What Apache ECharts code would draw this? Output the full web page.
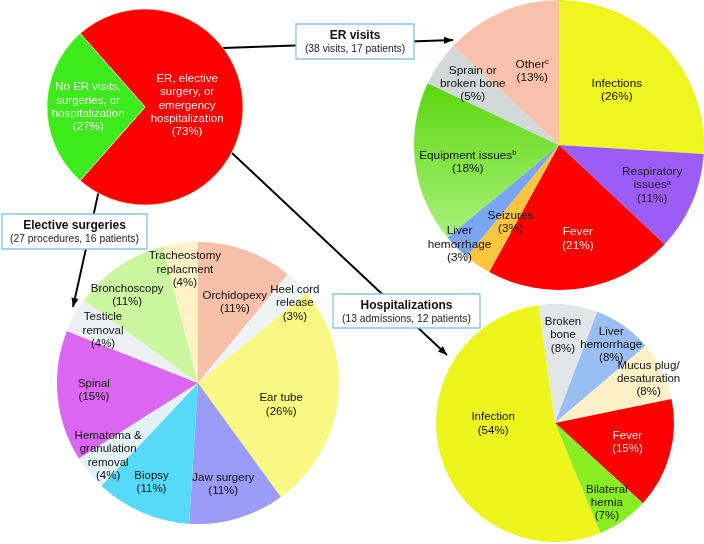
<!DOCTYPE html>
<html>
<head>
<meta charset="utf-8">
<script src="https://cdn.jsdelivr.net/npm/echarts@6/dist/echarts.min.js"></script>
<style>
    html, body { margin: 0; padding: 0; background: #fff; }
    #main { width: 704px; height: 544px; }
</style>
</head>
<body>
<div id="main"></div>
<script>
// overall split of patients
var overallNames = ['ER, elective\nsurgery, or\nemergency\nhospitalization', 'No ER visits,\nsurgeries, or\nhospitalization'];
var overallPct = [73, 27];

// ER visits (38 visits, 17 patients)
var erNames = ['Infections', 'Respiratory\nissues', 'Fever', 'Seizures', 'Liver\nhemorrhage', 'Equipment issues', 'Sprain or\nbroken bone', 'Other'];
var erNotes = ['', 'a', '', '', '', 'b', '', 'c'];
var erPct = [26, 11, 21, 3, 3, 18, 5, 13];

// elective surgeries (27 procedures, 16 patients)
var surgNames = ['Orchidopexy', 'Heel cord\nrelease', 'Ear tube', 'Jaw surgery', 'Biopsy', 'Hematoma &\ngranulation\nremoval', 'Spinal', 'Testicle\nremoval', 'Bronchoscopy', 'Tracheostomy\nreplacment'];
var surgPct = [11, 3, 26, 11, 11, 4, 15, 4, 11, 4];

// hospitalizations (13 admissions, 12 patients)
var hospNames = ['Broken\nbone', 'Liver\nhemorrhage', 'Mucus plug/\ndesaturation', 'Fever', 'Bilateral\nhernia', 'Infection'];
var hospPct = [8, 8, 8, 15, 7, 54];

// box captions
var boxTitles = ['ER visits', 'Elective surgeries', 'Hospitalizations'];
var boxSubs = ['(38 visits, 17 patients)', '(27 procedures, 16 patients)', '(13 admissions, 12 patients)'];

// styling
var overallColors = ['#FF0000', '#3DEB1C'];
var erColors = ['#EFF51E', '#9B5CF8', '#FF0000', '#FCC53F', '#7AA5F2',
    new echarts.graphic.LinearGradient(0, 0, 0, 1, [{ offset: 0, color: '#5CD60E' }, { offset: 1, color: '#A8F27A' }]),
    '#D3D8D8', '#F9C1AC'];
var surgColors = ['#F8C0A8', '#EEF4F6', '#F8F882', '#9B9BF8', '#55DAFA', '#E4F1F6', '#DA66F2', '#ECF0F2', '#CCF5A0', '#FFF2C8'];
var hospColors = ['#E2E6E6', '#9ABEF2', '#FBF0C8', '#FF0000', '#88EE22', '#EEF51C'];

// label spots: [angle deg, fraction of radius]
var overallSpots = [[2, 0.43], [180, 0.58]];
var erSpots = [[43.5, 0.55], [-23.3, 0.70], [-78.6, 0.66], [-122.1, 0.63], [-135, 0.97], [190.6, 0.64], [144.6, 0.73], [110, 0.54]];
var surgSpots = [[65.5, 0.63], [39.5, 0.89], [-14.8, 0.61], [-76, 0.74], [-115, 0.78], [219, 0.82], [184, 0.74], [151, 0.77], [128.9, 0.80], [96.6, 0.81]];
var hospSpots = [[84.8, 0.74], [54.3, 0.81], [25.3, 0.87], [-14.8, 0.63], [-57, 0.80], [180.9, 0.52]];

var FONT = 'Liberation Sans, Arial, Helvetica, sans-serif';

function spotLayout(cx, cy, r, spots) {
    return function (params) {
        var s = spots[params.dataIndex];
        var a = s[0] * Math.PI / 180;
        return { x: cx + r * s[1] * Math.cos(a), y: cy - r * s[1] * Math.sin(a), align: 'center', verticalAlign: 'middle' };
    };
}

function makePie(names, pct, colors, textColors, notes, cx, cy, r, start, spots, fontSize, border) {
    var data = [];
    for (var i = 0; i < names.length; i++) {
        data.push({
            name: names[i], value: pct[i],
            itemStyle: { color: colors[i] },
            label: { color: textColors[i] || '#111' }
        });
    }
    return {
        type: 'pie',
        center: [cx, cy],
        radius: r,
        startAngle: start,
        clockwise: true,
        silent: true,
        animation: false,
        itemStyle: border ? { borderWidth: 0.7, borderColor: border } : { borderWidth: 0 },
        label: {
            show: true,
            position: 'inside',
            fontFamily: FONT,
            fontSize: fontSize,
            lineHeight: 13.3,
            formatter: function (p) {
                var note = notes ? notes[p.dataIndex] : '';
                return p.name + (note ? '{sup|' + note + '}' : '') + '\n(' + p.value + '%)';
            },
            rich: {
                sup: { fontSize: 7.5, fontFamily: FONT, verticalAlign: 'top', lineHeight: 13.3 }
            }
        },
        labelLine: { show: false },
        labelLayout: spotLayout(cx, cy, r, spots),
        data: data
    };
}

function arrowLine(x1, y1, x2, y2, head) {
    var els = [{
        type: 'line', z: 1, silent: true,
        shape: { x1: x1, y1: y1, x2: x2, y2: y2 },
        style: { stroke: '#000', lineWidth: 1.9 }
    }];
    if (head) {
        var a = Math.atan2(y2 - y1, x2 - x1);
        var len = 9, w = 3.6;
        var bx = x2 - len * Math.cos(a), by = y2 - len * Math.sin(a);
        els.push({
            type: 'polygon', z: 1, silent: true,
            shape: { points: [[x2, y2], [bx + w * Math.sin(a), by - w * Math.cos(a)], [bx - w * Math.sin(a), by + w * Math.cos(a)]] },
            style: { fill: '#000' }
        });
    }
    return els;
}

function box(x, y, w, h, title, sub) {
    return {
        type: 'group', z: 50, silent: true,
        children: [
            { type: 'rect', z: 50, shape: { x: x, y: y, width: w, height: h }, style: { fill: '#fff', stroke: '#86C5EA', lineWidth: 1.3 } },
            { type: 'text', z: 51, style: { x: x + w / 2, y: y + 12, text: title, font: 'bold 12px ' + FONT, fill: '#111', align: 'center', verticalAlign: 'middle' } },
            { type: 'text', z: 51, style: { x: x + w / 2, y: y + 25, text: sub, font: '10.3px ' + FONT, fill: '#222', align: 'center', verticalAlign: 'middle' } }
        ]
    };
}

var graphics = [].concat(
    arrowLine(223, 48, 453, 40, true),
    arrowLine(232, 153, 447, 355, true),
    arrowLine(99, 190, 73, 307, true),
    [box(296, 24, 118, 35, boxTitles[0], boxSubs[0]),
     box(2, 214, 145, 35, boxTitles[1], boxSubs[1]),
     box(333, 294, 147, 34, boxTitles[2], boxSubs[2])]
);

var chart = echarts.init(document.getElementById('main'));
chart.setOption({
    animation: false,
    backgroundColor: '#fff',
    graphic: graphics,
    series: [
        makePie(overallNames, overallPct, overallColors, ['#FFF0F0', '#F4FFF0'], null, 145, 107, 98, 131.4, overallSpots, 11.5, '#EAF2C8'),
        makePie(erNames, erPct, erColors, ['', '#222', '#FFE8E8'], erNotes, 559, 145, 145, 90, erSpots, 11.8),
        makePie(surgNames, surgPct, surgColors, [], null, 198, 383, 141, 90, surgSpots, 11.5),
        makePie(hospNames, hospPct, hospColors, ['', '', '', '#FFE8E8'], null, 555, 423, 119, 98, hospSpots, 11.5)
    ]
});
</script>
</body>
</html>
